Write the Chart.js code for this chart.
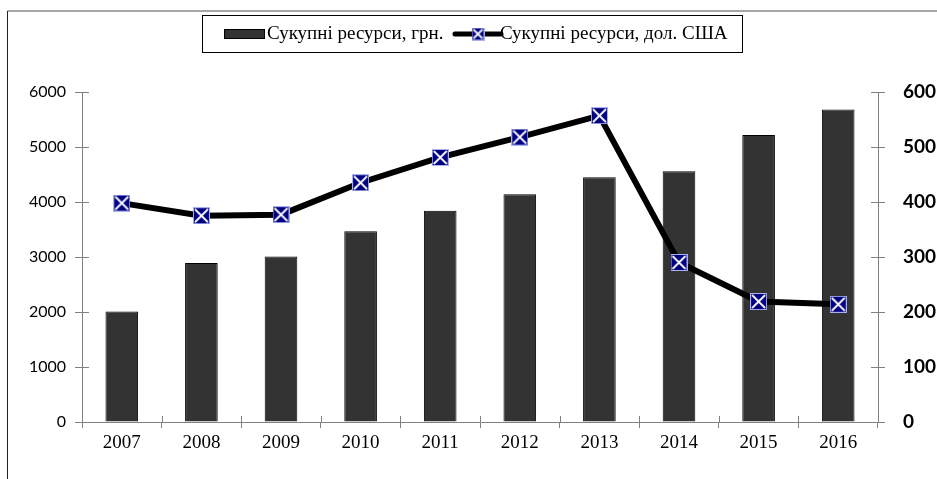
<!DOCTYPE html>
<html>
<head>
<meta charset="utf-8">
<script src="https://cdn.jsdelivr.net/npm/chart.js@4.4.1/dist/chart.umd.min.js"></script>
<style>
  html, body { margin: 0; padding: 0; background: #fff; }
  #wrap { width: 937px; height: 479px; }
</style>
</head>
<body>
<div id="wrap"><canvas id="chart" width="937" height="479"></canvas></div>
<script>
// дані
const years = ['2007', '2008', '2009', '2010', '2011', '2012', '2013', '2014', '2015', '2016'];
const resursyGrn = [2010, 2890, 3010, 3470, 3840, 4140, 4450, 4560, 5220, 5680];
const resursyUsd = [398, 375, 377, 435, 481, 518, 557, 290, 219, 214];
const leftTicks = [0, 1000, 2000, 3000, 4000, 5000, 6000];
const rightTicks = [0, 100, 200, 300, 400, 500, 600];
const labelGrn = 'Сукупні ресурси, грн.';
const labelUsd = 'Сукупні ресурси, дол. США';

// маркер: синій квадрат з білим хрестом
function makeMarker(size) {
  const c = document.createElement('canvas');
  c.width = size; c.height = size;
  const ctx = c.getContext('2d');
  ctx.fillStyle = '#000080';
  ctx.fillRect(0, 0, size, size);
  ctx.strokeStyle = '#a8b0f0';
  ctx.lineWidth = 1;
  ctx.strokeRect(0.5, 0.5, size - 1, size - 1);
  ctx.strokeStyle = '#ffffff';
  ctx.lineWidth = 1.8;
  ctx.beginPath();
  ctx.moveTo(2, 2); ctx.lineTo(size - 2, size - 2);
  ctx.moveTo(size - 2, 2); ctx.lineTo(2, size - 2);
  ctx.stroke();
  return c;
}

const FS = 19;       // шрифт легенди
const SW = 44;       // ширина значка в легенді

function makeBarSwatch() {
  const c = document.createElement('canvas');
  c.width = SW; c.height = 12;
  const ctx = c.getContext('2d');
  ctx.fillStyle = '#333333';
  ctx.fillRect(1, 1, SW - 3, 10);
  ctx.strokeStyle = '#000';
  ctx.lineWidth = 1;
  ctx.strokeRect(1.5, 1.5, SW - 4, 9);
  return c;
}

function makeLineSwatch() {
  const c = document.createElement('canvas');
  c.width = SW + 8; c.height = 14;
  const ctx = c.getContext('2d');
  ctx.strokeStyle = '#000';
  ctx.lineWidth = 5;
  ctx.lineCap = 'round';
  ctx.beginPath();
  ctx.moveTo(3, 7); ctx.lineTo(SW + 5, 7);
  ctx.stroke();
  const m = makeMarker(13);
  ctx.drawImage(m, (SW + 8) / 2 - 6.5, 0.5);
  return c;
}

const pointImg = makeMarker(17);
const barSwatch = makeBarSwatch();
const lineSwatch = makeLineSwatch();

// рамка та фон
const framePlugin = {
  id: 'frame',
  beforeDraw(chart) {
    const ctx = chart.ctx;
    ctx.save();
    ctx.fillStyle = '#fff';
    ctx.fillRect(0, 0, chart.width, chart.height);
    ctx.lineWidth = 1.5;
    ctx.strokeStyle = '#888';
    ctx.beginPath();
    ctx.moveTo(7.5, 11);
    ctx.lineTo(chart.width, 11);
    ctx.stroke();
    ctx.lineWidth = 1;
    ctx.strokeStyle = '#222';
    ctx.beginPath();
    ctx.moveTo(7.5, 11);
    ctx.lineTo(7.5, chart.height);
    ctx.stroke();
    ctx.restore();
  },
  afterDraw(chart) {
    const ctx = chart.ctx;
    ctx.save();
    ctx.strokeStyle = '#808080';
    ctx.lineWidth = 1;
    // внутрішні половинки рисок (риски перетинають вісь)
    const sx = chart.scales.x, sy = chart.scales.y, sy1 = chart.scales.y1;
    ctx.beginPath();
    const n = years.length;
    for (let i = 0; i <= n; i++) {
      const px = Math.round(sx.left + (sx.right - sx.left) * i / n) + 0.5;
      ctx.moveTo(px, sx.top); ctx.lineTo(px, sx.top - 6);
    }
    leftTicks.forEach(v => {
      const py = Math.round(sy.getPixelForValue(v)) + 0.5;
      ctx.moveTo(sy.right, py); ctx.lineTo(sy.right + 7, py);
    });
    rightTicks.forEach(v => {
      const py = Math.round(sy1.getPixelForValue(v)) + 0.5;
      ctx.moveTo(sy1.left, py); ctx.lineTo(sy1.left - 7, py);
    });
    ctx.stroke();

    // рамка навколо легенди
    const boxes = chart.legend.legendHitBoxes;
    if (boxes && boxes.length) {
      const first = boxes[0], last = boxes[boxes.length - 1];
      const cy = first.top + first.height / 2;
      const x1 = Math.round(first.left - 30) + 0.5;
      const x2 = Math.round(last.left + last.width + 14) + 0.5;
      ctx.strokeStyle = '#000';
      ctx.strokeRect(x1, Math.round(cy - 19) + 0.5, x2 - x1, 37);
    }
    ctx.restore();
  }
};

// відступ між легендою і графіком
const spacerPlugin = {
  id: 'spacer',
  beforeInit(chart) {
    const box = {
      position: 'top', weight: 0, fullSize: true,
      options: {},
      width: 0, height: 0,
      isHorizontal() { return true; },
      update(maxWidth) { this.width = maxWidth; this.height = 38.5; },
      draw() {}
    };
    Chart.layouts.addBox(chart, box);
  }
};

new Chart(document.getElementById('chart'), {
  type: 'bar',
  data: {
    labels: years,
    datasets: [
      {
        type: 'line',
        label: labelUsd,
        data: resursyUsd,
        yAxisID: 'y1',
        borderColor: '#000',
        borderWidth: 6,
        tension: 0,
        pointStyle: pointImg,
        order: 0
      },
      {
        type: 'bar',
        label: labelGrn,
        data: resursyGrn,
        yAxisID: 'y',
        backgroundColor: '#333333',
        borderColor: '#000',
        borderWidth: 1,
        barPercentage: 0.41,
        categoryPercentage: 1,
        order: 1
      }
    ]
  },
  options: {
    responsive: false,
    animation: false,
    events: [],
    layout: { padding: { top: 2.5, left: 0, right: 0, bottom: 0 } },
    plugins: {
      tooltip: { enabled: false },
      legend: {
        position: 'top',
        fullSize: false,
        labels: {
          usePointStyle: true,
          pointStyleWidth: SW - FS,
          padding: 22,
          color: '#000',
          font: { family: '"Liberation Serif", "Times New Roman", serif', size: FS },
          generateLabels() {
            return [
              { text: labelGrn, pointStyle: barSwatch, fillStyle: '#333', strokeStyle: '#000', lineWidth: 0, datasetIndex: 1 },
              { text: labelUsd, pointStyle: lineSwatch, fillStyle: '#000', strokeStyle: '#000', lineWidth: 0, datasetIndex: 0 }
            ];
          }
        }
      }
    },
    scales: {
      x: {
        offset: true,
        grid: { display: true, drawOnChartArea: false, offset: true, tickLength: 6, color: '#808080' },
        border: { color: '#808080' },
        ticks: {
          color: '#000',
          padding: 4,
          font: { family: '"Liberation Serif", "Times New Roman", serif', size: FS }
        },
        afterFit(scale) { scale.height = 57; }
      },
      y: {
        position: 'left',
        min: 0, max: 6000,
        afterBuildTicks(scale) { scale.ticks = leftTicks.map(v => ({ value: v })); },
        grid: { drawOnChartArea: false, tickLength: 7, color: '#808080' },
        border: { color: '#808080' },
        ticks: {
          color: '#000',
          padding: 9,
          callback: v => String(v),
          font: { family: 'Lato, "Open Sans", sans-serif', size: 16 }
        },
        afterFit(scale) { scale.width = 82; }
      },
      y1: {
        position: 'right',
        min: 0, max: 600,
        afterBuildTicks(scale) { scale.ticks = rightTicks.map(v => ({ value: v })); },
        grid: { drawOnChartArea: false, tickLength: 7, color: '#808080' },
        border: { color: '#808080' },
        ticks: {
          color: '#000',
          padding: 18,
          callback: v => String(v),
          font: { family: 'Lato, "Open Sans", sans-serif', size: 19, weight: 'bold' }
        },
        afterFit(scale) { scale.width = 59; }
      }
    }
  },
  plugins: [framePlugin, spacerPlugin]
});
</script>
</body>
</html>
